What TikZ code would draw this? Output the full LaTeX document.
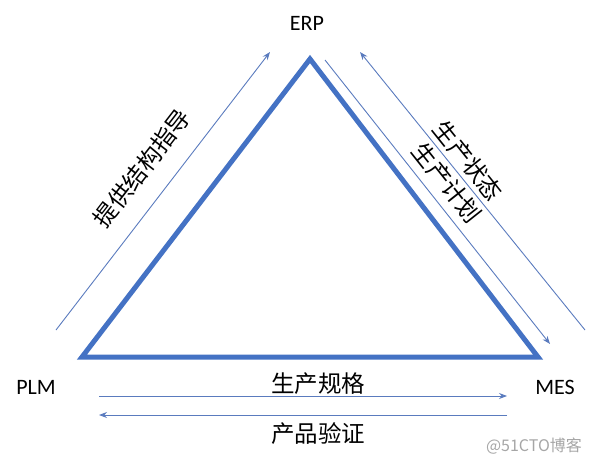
\documentclass[tikz,border=0pt]{standalone}
\usepackage{fontspec}
\setmainfont{Carlito}
\newfontfamily\cjk{Noto Sans CJK SC}
\usetikzlibrary{arrows.meta}
\definecolor{triblue}{HTML}{4472C4}
\definecolor{arrblue}{HTML}{5A7BBE}
\tikzset{
  tri/.style={draw=triblue, line width=5pt, line join=miter},
  flow/.style={draw=arrblue, line width=0.9pt, -{Stealth[length=8pt,width=6pt]}},
  sys/.style={font=\fontsize{22}{24}\selectfont, inner sep=0pt},
  lab/.style={font=\cjk\fontsize{23.5}{26}\selectfont, inner sep=0pt},
  wm/.style={font=\cjk\fontsize{16}{18}\selectfont, text=gray!70, inner sep=0pt}
}
\begin{document}
\begin{tikzpicture}[x=1pt, y=-1pt]
\useasboundingbox (0,0) rectangle (592,463);
% triangle vertices
\coordinate (top) at (310,59);
\coordinate (bl) at (82,357);
\coordinate (br) at (538,357);
\draw[tri] (top) -- (bl) -- (br) -- cycle;
% system labels
\node[sys] (erp) at (307,23) {ERP};
\node[sys] (plm) at (36,387) {PLM};
\node[sys] (mes) at (555,387) {MES};
% arrow end points
\coordinate (a1s) at (56,330);
\coordinate (a1e) at (270,52);
\coordinate (a2s) at (325,60);
\coordinate (a2e) at (550,344);
\coordinate (a3s) at (585,330);
\coordinate (a3e) at (360,52);
\coordinate (a4s) at (99,396);
\coordinate (a4e) at (507,396);
\coordinate (a5s) at (507,415);
\coordinate (a5e) at (99,415);
\draw[flow] (a1s) -- (a1e);
\draw[flow] (a2s) -- (a2e);
\draw[flow] (a3s) -- (a3e);
\draw[flow] (a4s) -- (a4e);
\draw[flow] (a5s) -- (a5e);
% labels
\node[lab, rotate=52.3] (l1) at (142,168) {提供结构指导};
\node[lab, rotate=-51.3] (l3) at (468,161) {生产状态};
\node[lab, rotate=-51.6] (l2) at (447,183) {生产计划};
\node[lab] (l4) at (318,384) {生产规格};
\node[lab] (l5) at (318,434) {产品验证};
\node[wm] (w) at (534,446) {@51CTO博客};
\end{tikzpicture}
\end{document}
